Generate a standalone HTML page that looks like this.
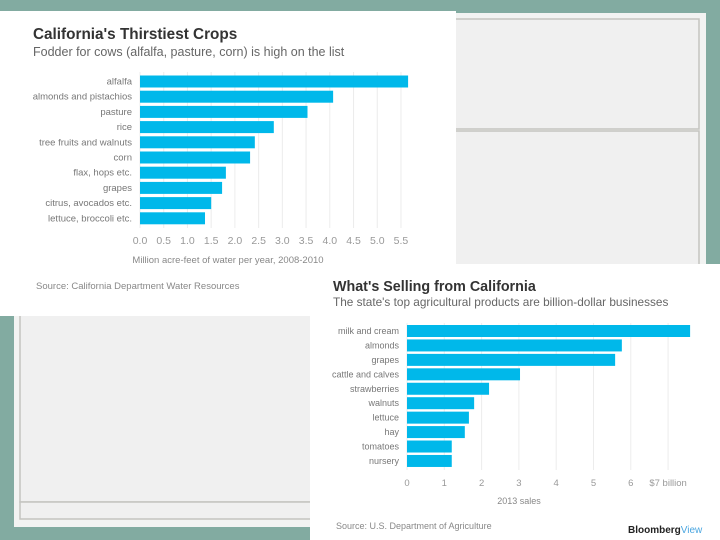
<!DOCTYPE html>
<html><head><meta charset="utf-8">
<style>
html,body{margin:0;padding:0;width:720px;height:540px;overflow:hidden;background:#82aba1;font-family:"Liberation Sans",sans-serif;}
svg{display:block}
</style></head>
<body>
<svg width="720" height="540" viewBox="0 0 720 540">
  <rect x="0" y="0" width="720" height="540" fill="#82aba1"/>
  <rect x="14" y="13" width="692" height="514" fill="#f2f3f2"/>
  <rect x="20" y="19" width="679" height="110" fill="#f0f0f0" stroke="#c4c4c0" stroke-width="1.5"/>
  <rect x="20" y="131" width="679" height="371" fill="#f0f0f0" stroke="#c4c4c0" stroke-width="1.5"/>
  <rect x="20" y="502" width="679" height="17" fill="#f0f0f0" stroke="#c4c4c0" stroke-width="1.5"/>

  <g id="c1">
    <rect x="0" y="11" width="456" height="305" fill="#ffffff"/>
    <text x="33" y="39" font-size="15.3" font-weight="bold" fill="#333">California's Thirstiest Crops</text>
    <text x="33" y="56" font-size="12.5" fill="#666">Fodder for cows (alfalfa, pasture, corn) is high on the list</text>
    <text x="228" y="263" font-size="9.5" fill="#888" text-anchor="middle">Million acre-feet of water per year, 2008-2010</text>
    <text x="36" y="289" font-size="9.5" fill="#888">Source: California Department Water Resources</text>
  </g>

  <g id="c2">
    <rect x="310" y="264" width="410" height="276" fill="#ffffff"/>
    <text x="333" y="291" font-size="14.3" font-weight="bold" fill="#333">What's Selling from California</text>
    <text x="333" y="306" font-size="11.8" fill="#666">The state's top agricultural products are billion-dollar businesses</text>
    <text x="519" y="504" font-size="9" fill="#888" text-anchor="middle">2013 sales</text>
    <text x="336" y="529" font-size="9" fill="#888">Source: U.S. Department of Agriculture</text>
    <text x="628" y="533" font-size="10" font-weight="bold" fill="#222">Bloomberg<tspan fill="#4aa6e0" font-weight="normal">View</tspan></text>
  </g>
</svg>
<script>
const c1Categories = ["alfalfa","almonds and pistachios","pasture","rice","tree fruits and walnuts","corn","flax, hops etc.","grapes","citrus, avocados etc.","lettuce, broccoli etc."];
const c1Values = [5.65,4.07,3.53,2.82,2.42,2.32,1.81,1.73,1.5,1.37];
const c1Ticks = [0,0.5,1,1.5,2,2.5,3,3.5,4,4.5,5,5.5];
const c1TickLabels = ["0.0","0.5","1.0","1.5","2.0","2.5","3.0","3.5","4.0","4.5","5.0","5.5"];

const c2Categories = ["milk and cream","almonds","grapes","cattle and calves","strawberries","walnuts","lettuce","hay","tomatoes","nursery"];
const c2Values = [7.59,5.76,5.58,3.03,2.2,1.8,1.66,1.55,1.2,1.2];
const c2Ticks = [0,1,2,3,4,5,6,7];
const c2TickLabels = ["0","1","2","3","4","5","6","$7 billion"];

const NS = "http://www.w3.org/2000/svg";
function mk(tag, attrs, parent){const e=document.createElementNS(NS,tag);for(const k in attrs)e.setAttribute(k,attrs[k]);parent.appendChild(e);return e;}

function drawChart(g, cats, vals, ticks, tickLabels, x0, unit, y0, step, barH, tickY, plotTop, plotBot, prefix, labelSize, tickSize){
  const xs = v => x0 + v*unit;
  const ys = i => y0 + i*step;
  ticks.forEach((t,i)=>{
    const gl = mk('line',{x1:xs(t),x2:xs(t),y1:plotTop,y2:plotBot,stroke:'#ececec','stroke-width':1},g);
    
    
    const tl = mk('text',{x:xs(t),y:tickY,'font-size':tickSize,fill:'#999','text-anchor':'middle'},g);
    tl.textContent = tickLabels[i];
    
    
  });
  cats.forEach((c,i)=>{
    const b = mk('rect',{x:x0,y:ys(i)-barH/2,width:xs(vals[i])-x0,height:barH,fill:'#00b8ea'},g);
    
    
    const l = mk('text',{x:x0-8,y:ys(i)+3,'font-size':labelSize,fill:'#777','text-anchor':'end'},g);
    l.textContent = c;
    
    
  });
}
drawChart(document.getElementById('c1'), c1Categories, c1Values, c1Ticks, c1TickLabels, 140, 47.45, 81.5, 15.2, 12, 244, 72, 228, 'chart1', 9.5, 10.5);
drawChart(document.getElementById('c2'), c2Categories, c2Values, c2Ticks, c2TickLabels, 407, 37.3, 331, 14.44, 12, 486, 323, 470, 'chart2', 9, 9.5);
</script>
</body></html>
